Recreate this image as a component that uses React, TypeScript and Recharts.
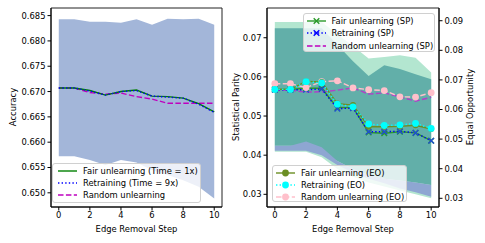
import React from "react";
import {
    ComposedChart,
    Line,
    Area,
    XAxis,
    YAxis,
    ReferenceArea,
} from "recharts";

const steps = [0, 1, 2, 3, 4, 5, 6, 7, 8, 9, 10];

// left panel: accuracy
const accFair = [0.6707, 0.6707, 0.6702, 0.6693, 0.6700, 0.6703, 0.6691, 0.6690, 0.6687, 0.6676, 0.6660];
const accRetrain = [0.6707, 0.6707, 0.6701, 0.6693, 0.6700, 0.6702, 0.6691, 0.6689, 0.6687, 0.6675, 0.6659];
const accRandom = [0.6707, 0.6707, 0.6698, 0.6695, 0.6697, 0.6690, 0.6685, 0.6677, 0.6677, 0.6677, 0.6677];
const accBandHigh = [0.6843, 0.6843, 0.6838, 0.6838, 0.6836, 0.6843, 0.6832, 0.6844, 0.6843, 0.6844, 0.6832];
const accBandLow = [0.6572, 0.6572, 0.6565, 0.6555, 0.6565, 0.6560, 0.6545, 0.6535, 0.6525, 0.6512, 0.6489];
const accTicks = [0.65, 0.655, 0.66, 0.665, 0.67, 0.675, 0.68, 0.685];

// right panel: statistical parity (left axis)
const spFair = [0.0568, 0.0568, 0.0571, 0.0571, 0.0521, 0.0522, 0.0458, 0.0456, 0.0460, 0.0457, 0.0437];
const spRetrain = [0.0567, 0.0567, 0.0567, 0.0569, 0.0519, 0.0520, 0.0460, 0.0460, 0.0461, 0.0457, 0.0437];
const spRandom = [0.0567, 0.0566, 0.0561, 0.0562, 0.0566, 0.0572, 0.0556, 0.0559, 0.0549, 0.0538, 0.0548];
const spTicks = [0.03, 0.04, 0.05, 0.06, 0.07];

// right panel: equal opportunity (right axis)
const eoFair = [0.0668, 0.0668, 0.0695, 0.0693, 0.0620, 0.0615, 0.0542, 0.0542, 0.0543, 0.0547, 0.0534];
const eoRetrain = [0.0668, 0.0668, 0.0694, 0.0690, 0.0618, 0.0609, 0.0551, 0.0546, 0.0548, 0.0553, 0.0536];
const eoRandom = [0.0687, 0.0687, 0.0674, 0.0694, 0.0697, 0.0673, 0.0667, 0.0664, 0.0643, 0.0642, 0.0657];
const eoTicks = [0.03, 0.04, 0.05, 0.06, 0.07, 0.08, 0.09];

// shaded bands on the right panel (left axis units)
const outerHigh = [0.0740, 0.0740, 0.0740, 0.0740, 0.0709, 0.0679, 0.0647, 0.0651, 0.0655, 0.0649, 0.0611];
const outerLow = [0.0409, 0.0409, 0.0409, 0.0395, 0.0365, 0.0345, 0.0330, 0.0320, 0.0310, 0.0300, 0.0290];
const tealHigh = [0.0724, 0.0724, 0.0724, 0.0724, 0.0682, 0.0640, 0.0602, 0.0630, 0.0620, 0.0607, 0.0594];
const tealLow = [0.0424, 0.0424, 0.0424, 0.0405, 0.0385, 0.0365, 0.0350, 0.0340, 0.0335, 0.0330, 0.0324];
const blueHigh = [0.0424, 0.0424, 0.0435, 0.0420, 0.0385, 0.0365, 0.0350, 0.0340, 0.0335, 0.0330, 0.0324];
const blueLow = [0.0411, 0.0411, 0.0411, 0.0400, 0.0375, 0.0355, 0.0340, 0.0328, 0.0315, 0.0305, 0.0294];

const xTicks = [0, 2, 4, 6, 8, 10];

const accData = steps.map((s, i) => ({
    step: s,
    fair: accFair[i],
    retrain: accRetrain[i],
    random: accRandom[i],
    band: [accBandLow[i], accBandHigh[i]],
}));

const fairData = steps.map((s, i) => ({
    step: s,
    spFair: spFair[i],
    spRetrain: spRetrain[i],
    spRandom: spRandom[i],
    eoFair: eoFair[i],
    eoRetrain: eoRetrain[i],
    eoRandom: eoRandom[i],
    outer: [outerLow[i], outerHigh[i]],
    teal: [tealLow[i], tealHigh[i]],
    blue: [blueLow[i], blueHigh[i]],
}));

const FONT = "'DejaVu Sans', sans-serif";
const FS = 8.4;
const tickStyle = { fontSize: FS, fontFamily: FONT, fill: "#000" };
const axisLabelStyle = { fontSize: FS, fontFamily: FONT, fill: "#000" };

const xMark = (color: string) => (props: any) => {
    const { cx, cy, index } = props;
    if (cx == null || cy == null) return <g key={`x-${index}`} />;
    const r = 2.8;
    return (
        <path
            key={`x-${index}`}
            d={`M${cx - r},${cy - r}L${cx + r},${cy + r}M${cx - r},${cy + r}L${cx + r},${cy - r}`}
            stroke={color}
            strokeWidth={1.4}
            fill="none"
        />
    );
};

const vLabel = (text: string, x: number) => () => {
    const cy = 107;
    return (
        <text
            x={x}
            y={cy}
            transform={`rotate(-90, ${x}, ${cy})`}
            textAnchor="middle"
            dominantBaseline="central"
            style={{ fontSize: FS, fontFamily: FONT }}
            fill="#000"
        >
            {text}
        </text>
    );
};

const LegendIcon = ({ color, dash, marker }: any) => (
    <svg width={19} height={10} style={{ display: "block" }}>
        <line x1={0} y1={5} x2={19} y2={5} stroke={color} strokeWidth={1.4} strokeDasharray={dash} />
        {marker === "x" && (
            <path d="M6.7,2.2L12.3,7.8M6.7,7.8L12.3,2.2" stroke={color} strokeWidth={1.4} />
        )}
        {marker === "o" && <circle cx={9.5} cy={5} r={3.4} fill={color} />}
    </svg>
);

const LegendBox = ({ items, left, top, width, height, pad, gap, row }: any) => (
    <div
        style={{
            position: "absolute",
            left,
            top,
            width,
            height,
            boxSizing: "border-box",
            border: "1px solid #d0d0d0",
            borderRadius: 3,
            background: "rgba(255,255,255,0.8)",
            fontFamily: FONT,
            fontSize: FS,
        }}
    >
        {items.map((it: any, i: number) => (
            <div
                key={i}
                style={{
                    position: "absolute",
                    left: pad,
                    top: 1.5 + i * row,
                    height: 12,
                    display: "flex",
                    alignItems: "center",
                    whiteSpace: "nowrap",
                }}
            >
                <LegendIcon color={it.color} dash={it.dash} marker={it.marker} />
                <span style={{ marginLeft: gap, lineHeight: "12px" }}>{it.label}</span>
            </div>
        ))}
    </div>
);

const DASHED = "5.5 2.4";
const DOTTED = "1.4 2.2";

const accLegend = [
    { label: "Fair unlearning (Time = 1x)", color: "#008000" },
    { label: "Retraining (Time = 9x)", color: "#0000ff", dash: DOTTED },
    { label: "Random unlearning", color: "#bf00bf", dash: DASHED },
];
const spLegend = [
    { label: "Fair unlearning (SP)", color: "#2a9a2a", marker: "x" },
    { label: "Retraining (SP)", color: "#0000ff", dash: DOTTED, marker: "x" },
    { label: "Random unlearning (SP)", color: "#bf00bf", dash: DASHED },
];
const eoLegend = [
    { label: "Fair unlearning (EO)", color: "#6b8e23", marker: "o" },
    { label: "Retraining (EO)", color: "#00ffff", dash: DOTTED, marker: "o" },
    { label: "Random unlearning (EO)", color: "#ffc0cb", dash: DASHED, marker: "o" },
];

const AccuracyChart = () => (
    <ComposedChart
        width={240}
        height={243}
        data={accData}
        margin={{ top: 8, right: 18, bottom: 0, left: 0 }}
    >
        <XAxis
            dataKey="step"
            type="number"
            domain={[-0.5, 10.5]}
            ticks={xTicks}
            tick={tickStyle}
            tickSize={3.5}
            tickMargin={2}
            height={36}
            stroke="#000"
            label={{ value: "Edge Removal Step", position: "insideBottom", offset: 11, style: axisLabelStyle }}
        />
        <YAxis
            type="number"
            domain={[0.6472, 0.6865]}
            ticks={accTicks}
            tickFormatter={(v: number) => v.toFixed(3)}
            tick={tickStyle}
            tickSize={3.5}
            tickMargin={2}
            width={51}
            stroke="#000"
            allowDataOverflow
            label={vLabel("Accuracy", 13)}
        />
        <Area dataKey="band" type="linear" stroke="none" fill="#a3b6d9" fillOpacity={1} isAnimationActive={false} />
        <Line dataKey="random" type="linear" stroke="#bf00bf" strokeWidth={1.4} strokeDasharray={DASHED} dot={false} isAnimationActive={false} />
        <Line dataKey="fair" type="linear" stroke="#008000" strokeWidth={1.4} dot={false} isAnimationActive={false} />
        <Line dataKey="retrain" type="linear" stroke="#0000ff" strokeWidth={1.4} strokeDasharray={DOTTED} dot={false} isAnimationActive={false} />
        <ReferenceArea x1={-0.5} x2={10.5} y1={0.6472} y2={0.6865} stroke="#222" strokeWidth={1} fill="none" fillOpacity={0} />
    </ComposedChart>
);

const FairnessChart = () => (
    <ComposedChart
        width={259}
        height={243}
        data={fairData}
        margin={{ top: 8, right: 0, bottom: 0, left: 0 }}
    >
        <XAxis
            dataKey="step"
            type="number"
            domain={[-0.5, 10.5]}
            ticks={xTicks}
            tick={tickStyle}
            tickSize={3.5}
            tickMargin={2}
            height={36}
            stroke="#000"
            label={{ value: "Edge Removal Step", position: "insideBottom", offset: 11, style: axisLabelStyle }}
        />
        <YAxis
            yAxisId="sp"
            type="number"
            domain={[0.02676, 0.0776]}
            ticks={spTicks}
            tickFormatter={(v: number) => v.toFixed(2)}
            tick={tickStyle}
            tickSize={3.5}
            tickMargin={2}
            width={41}
            stroke="#000"
            allowDataOverflow
            label={vLabel("Statistical Parity", 10)}
        />
        <YAxis
            yAxisId="eo"
            orientation="right"
            type="number"
            domain={[0.02706, 0.0943]}
            ticks={eoTicks}
            tickFormatter={(v: number) => v.toFixed(2)}
            tick={tickStyle}
            tickSize={3.5}
            tickMargin={2}
            width={46}
            stroke="#000"
            allowDataOverflow
            label={vLabel("Equal Opportunity", 244)}
        />
        <Area yAxisId="sp" dataKey="outer" type="linear" stroke="none" fill="#b3e6d0" fillOpacity={1} isAnimationActive={false} />
        <Area yAxisId="sp" dataKey="teal" type="linear" stroke="none" fill="#62afa9" fillOpacity={1} isAnimationActive={false} />
        <Area yAxisId="sp" dataKey="blue" type="linear" stroke="none" fill="#8ea6d2" fillOpacity={1} isAnimationActive={false} />
        <Line yAxisId="sp" dataKey="spRandom" type="linear" stroke="#b040c8" strokeWidth={1.4} strokeDasharray={DASHED} dot={false} isAnimationActive={false} />
        <Line yAxisId="sp" dataKey="spFair" type="linear" stroke="#2a9a2a" strokeWidth={1.4} dot={xMark("#2a9a2a")} isAnimationActive={false} />
        <Line yAxisId="sp" dataKey="spRetrain" type="linear" stroke="#0000ff" strokeWidth={1.4} strokeDasharray={DOTTED} dot={xMark("#1f4fd0")} isAnimationActive={false} />
        <Line yAxisId="eo" dataKey="eoRandom" type="linear" stroke="#ffc0cb" strokeWidth={1.4} strokeDasharray={DASHED} dot={{ r: 3.4, fill: "#ffc0cb", stroke: "none" }} isAnimationActive={false} />
        <Line yAxisId="eo" dataKey="eoFair" type="linear" stroke="#6b8e23" strokeWidth={1.4} dot={{ r: 3, fill: "#6b8e23", stroke: "none" }} isAnimationActive={false} />
        <Line yAxisId="eo" dataKey="eoRetrain" type="linear" stroke="#00ffff" strokeWidth={1.4} strokeDasharray={DOTTED} dot={{ r: 3.4, fill: "#00ffff", stroke: "none" }} isAnimationActive={false} />
        <ReferenceArea yAxisId="sp" x1={-0.5} x2={10.5} y1={0.02676} y2={0.0776} stroke="#222" strokeWidth={1} fill="none" fillOpacity={0} />
    </ComposedChart>
);

export default function App() {
    return (
        <div style={{ position: "absolute", left: 0, top: 0, width: 485, height: 243, background: "#fff" }}>
            <div style={{ position: "absolute", left: 0, top: 0 }}>
                <AccuracyChart />
            </div>
            <div style={{ position: "absolute", left: 226, top: 0 }}>
                <FairnessChart />
            </div>
            <LegendBox items={accLegend} left={52} top={162.5} width={149} height={40} pad={5} gap={6} row={12} />
            <LegendBox items={spLegend} left={303} top={12.5} width={132} height={39} pad={2.5} gap={6} row={12.3} />
            <LegendBox items={eoLegend} left={272} top={164.5} width={135} height={37} pad={3} gap={6} row={12.2} />
        </div>
    );
}
